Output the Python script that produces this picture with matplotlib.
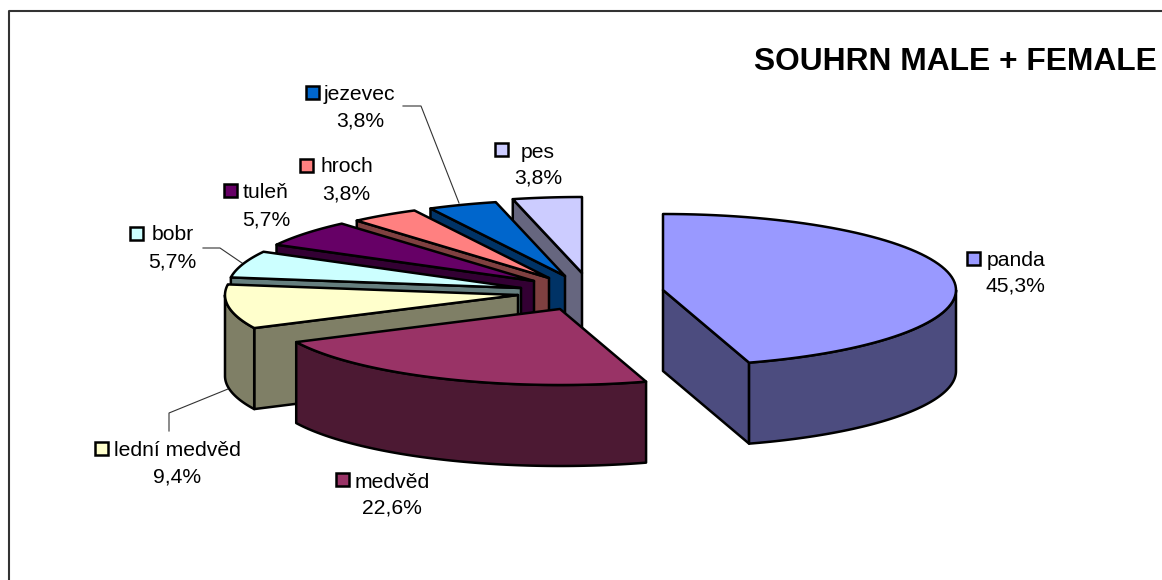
import numpy as np
import matplotlib
matplotlib.use("Agg")
import matplotlib.pyplot as plt
from matplotlib.patches import Polygon, Rectangle

plt.rcParams['font.family'] = ['Liberation Sans', 'DejaVu Sans']

# data
names = ['panda', 'medvěd', 'lední medvěd', 'bobr', 'tuleň', 'hroch', 'jezevec', 'pes']
values = [45.3, 22.6, 9.4, 5.7, 5.7, 3.8, 3.8, 3.8]
percent_labels = ['45,3%', '22,6%', '9,4%', '5,7%', '5,7%', '3,8%', '3,8%', '3,8%']
colors = ['#9999FF', '#993366', '#FFFFCC', '#CCFFFF', '#660066', '#FF8080', '#0066CC', '#CCCCFF']
wall_colors = ['#4C4C7F', '#4C1933', '#7F7F66', '#667F7F', '#330033', '#7F4040', '#003366', '#66667F']

# layout, in pixels of the figure
W, H = 1162, 580
rx, ry, depth = 293, 76, 81
tips = [(663, 290), (560, 309), (518, 295), (521, 288), (534, 281), (549, 278), (565, 276), (582, 273)]
key_pos = [(967, 252), (336, 473), (95, 442), (130, 227), (224, 184), (300, 159), (306, 86), (495, 143)]
name_pos = [(987, 260), (355, 482), (114, 450), (152, 235), (243, 192), (320, 167), (324, 94), (521, 152)]
pct_pos = [(1015, 286), (392, 508), (177, 477), (172, 262), (266, 220), (346, 194), (360, 121), (538, 178)]
leaders = [[(403, 106), (421, 106), (459, 203)],
           [(203, 248), (220, 248), (242, 263)],
           [(169, 431), (169, 413), (228, 389)]]

fig = plt.figure(figsize=(W / 100, H / 100), dpi=100)
ax = fig.add_axes([0, 0, 1, 1])
ax.set_xlim(0, W)
ax.set_ylim(H, 0)
ax.axis('off')


def rim(tip, a, b, n=80):
    t = np.radians(np.linspace(a, b, n))
    return np.column_stack((tip[0] + rx * np.sin(t), tip[1] - ry * np.cos(t)))


def face(pts, col, z):
    ax.add_patch(Polygon(pts, closed=True, facecolor=col, edgecolor='black',
                         linewidth=1.8, joinstyle='round', zorder=z))


ends = np.cumsum(values) / sum(values) * 360
starts = np.concatenate(([0], ends[:-1]))

# back slices first, panda last
for i in range(len(values) - 1, -1, -1):
    z = 10 + (len(values) - i)
    if i == 1:
        z = 30
    if i == 0:
        z = 31
    tip = tips[i]
    a, b = starts[i], ends[i]
    down = np.array([0, depth])
    # radial walls that face the viewer
    if 180 < a < 360:
        p = rim(tip, a, a, 1)[0]
        face([p, tip, np.array(tip) + down, p + down], wall_colors[i], z)
    if 0 < b < 180:
        p = rim(tip, b, b, 1)[0]
        face([tip, p, p + down, np.array(tip) + down], wall_colors[i], z)
    # outer wall, only the front half of the rim
    lo, hi = max(a, 90), min(b, 270)
    if lo < hi:
        arc = rim(tip, lo, hi)
        face(np.vstack((arc, (arc + down)[::-1])), wall_colors[i], z)
    face(np.vstack(([tip], rim(tip, a, b))), colors[i], z)

for pts in leaders:
    xs, ys = zip(*pts)
    ax.plot(xs, ys, color='#333333', lw=0.8, zorder=5)

for i in range(len(names)):
    ax.add_patch(Rectangle(key_pos[i], 13, 13, facecolor=colors[i], edgecolor='black',
                           linewidth=1.8, zorder=40))
    ax.text(name_pos[i][0], name_pos[i][1], names[i], fontsize=15.2, ha='left', va='center', color='black')
    ax.text(pct_pos[i][0], pct_pos[i][1], percent_labels[i], fontsize=15.2, ha='center', va='center', color='black')

ax.text(1157, 62, 'SOUHRN MALE + FEMALE', fontsize=22.9, fontweight='bold', ha='right', va='center', color='black')

# chart frame
ax.plot([9, 9, W], [H, 11, 11], color='#333333', lw=1.5, zorder=1)

fig.savefig('out.png', dpi=100)
